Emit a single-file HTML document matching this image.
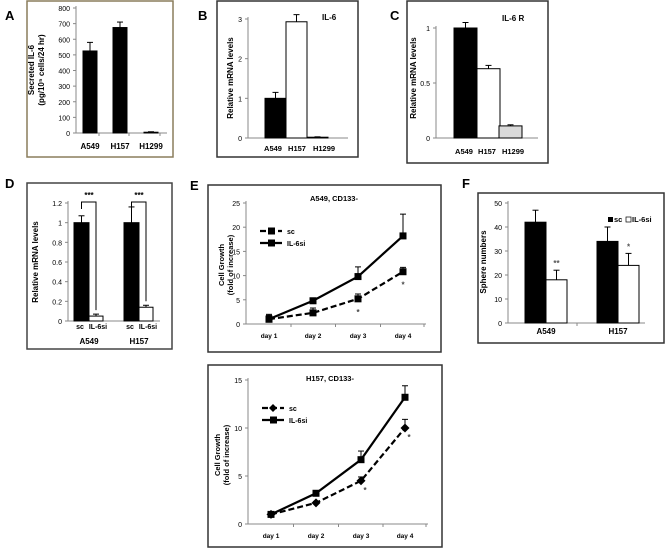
<!DOCTYPE html>
<html><head><meta charset="utf-8"><style>
body{margin:0;background:#fff;}
svg{display:block;font-family:"Liberation Sans",sans-serif;font-weight:bold;}
</style></head><body>
<svg id="fig" width="665" height="548" viewBox="0 0 665 548"></svg>
<script>
// Panel A
const aCats=["A549","H157","H1299"], aVals=[525,675,5], aErr=[55,35,3], aTicks=[0,100,200,300,400,500,600,700,800];
// Panel B
const bCats=["A549","H157","H1299"], bVals=[1.0,2.93,0.02], bErr=[0.15,0.18,0.01], bTicks=[0,1,2,3];
// Panel C
const cCats=["A549","H157","H1299"], cVals=[1.0,0.63,0.11], cErr=[0.05,0.03,0.01], cTicks=[0,0.5,1];
// Panel D
const dGroups=["A549","H157"], dSc=[1.0,1.0], dSi=[0.05,0.14], dScErr=[0.07,0.16], dSiErr=[0.02,0.02], dTicks=[0,0.2,0.4,0.6,0.8,1,1.2];
// Panel E
const days=["day 1","day 2","day 3","day 4"];
const eSc=[1,2.3,5.2,10.8], eScErr=[0.8,1,1,0.9], eSi=[1,4.8,9.8,18.2], eSiErr=[1,0.3,2,4.5], eTicks=[0,5,10,15,20,25];
// Panel F
const fGroups=["A549","H157"], fSc=[42,34], fSi=[18,24], fScErr=[5,6], fSiErr=[4,5], fTicks=[0,10,20,30,40,50];
// Bottom panel
const gSc=[1,2.2,4.5,10], gScErr=[0.1,0.15,0.4,0.9], gSi=[1,3.2,6.7,13.2], gSiErr=[0.1,0.1,0.9,1.2], gTicks=[0,5,10,15];

const svg=document.getElementById('fig');
const NS='http://www.w3.org/2000/svg';
function mk(tag,attrs,parent){const e=document.createElementNS(NS,tag);for(const k in attrs)e.setAttribute(k,attrs[k]);(parent||svg).appendChild(e);return e;}
function txt(x,y,s,size,anchor,parent,rot){const t=mk('text',{x:x,y:y,'font-size':size,'text-anchor':anchor||'middle',fill:'#000'},parent);if(rot)t.setAttribute('transform','rotate(-90 '+x+' '+y+')');t.textContent=s;return t;}
function scale(d0,d1,r0,r1){return v=>r0+(v-d0)/(d1-d0)*(r1-r0);}
function box(x,y,w,h,name,col){const r=mk('rect',{x:x,y:y,width:w,height:h,fill:'none',stroke:col||'#444','stroke-width':1.5});}
function yaxis(x,y,ticks,fmt,x1,g){mk('line',{x1:x,y1:y(ticks[ticks.length-1])-2,x2:x,y2:y(ticks[0]),stroke:'#888'},g);mk('line',{x1:x,y1:y(ticks[0]),x2:x1,y2:y(ticks[0]),stroke:'#888'},g);
 ticks.forEach(t=>{mk('line',{x1:x-3,y1:y(t),x2:x,y2:y(t),stroke:'#888'},g);txt(x-6,y(t)+3,fmt?fmt(t):String(t),7,'end',g).setAttribute('font-weight','normal');});}
function errbar(x,yv,ye,g,down){mk('line',{x1:x,y1:yv,x2:x,y2:ye,stroke:'#000'},g);mk('line',{x1:x-3,y1:ye,x2:x+3,y2:ye,stroke:'#000'},g);}
function grp(name){const g=mk('g',{});return g;}

// Panel labels
[["A",5,20],["B",198,20],["C",390,20],["D",5,188],["E",190,190],["F",462,188]].forEach(l=>{const t=txt(l[1],l[2],l[0],13,'start');});

// Simple 3-bar panels
function barPanel(name,cats,vals,errs,ticks,ax,y0,y1,xs,bw,fills,axEnd,labY,fmt,fs,labX){
 const g=grp(name);const y=scale(ticks[0],ticks[ticks.length-1],y0,y1);
 yaxis(ax,y,ticks,fmt,axEnd,g);
 cats.forEach((c,i)=>{const top=y(vals[i]);const r=mk('rect',{x:xs[i],y:top,width:bw,height:y(0)-top,fill:fills[i],stroke:'#000','stroke-width':1},g);
  
  errbar(xs[i]+bw/2,top,y(vals[i]+errs[i]),g);
  txt(labX?labX[i]:xs[i]+bw/2,labY,c,fs||8,'middle',g);});
 return g;}
box(27,1,146,156,'panel-a-frame','#8a7d5c');
barPanel('panel-a-chart',aCats,aVals,aErr,aTicks,76,133,8,[83,113,144],14,['#000','#000','#000'],167,149);
{const t=txt(34,70,'Secreted IL-6',8,'middle',null,true);
 const t2=txt(44,70,'(pg/10⁵ cells/24 hr)',8,'middle',null,true);}
[99,129,160].forEach(x=>mk('line',{x1:x,y1:133,x2:x,y2:136,stroke:'#888'}));

box(217,1,141,156,'panel-b-frame','#333');
barPanel('panel-b-chart',bCats,bVals,bErr,bTicks,248,138,19,[265,286,307],21,['#000','#fff','#fff'],348,151,null,7.5,[273,297,324]);
{const t=txt(233,78,'Relative mRNA levels',8,'middle',null,true);
 const t2=txt(322,20,'IL-6',8,'start');}

box(407,1,141,162,'panel-c-frame','#333');
barPanel('panel-c-chart',cCats,cCats.map((c,i)=>cVals[i]),cErr,cTicks,436,138,28,[454,477,499],23,['#000','#fff','#d9d9d9'],538,154,t=>t===0.5?'0.5':String(t),7.5,[464,487,513]);
{const t=txt(416,78,'Relative mRNA levels',8,'middle',null,true);
 const t2=txt(502,21,'IL-6 R',8,'start');}

// Panel D
box(27,183,145,166,'panel-d-frame','#444');
{const g=grp('panel-d-chart');const y=scale(0,1.2,321,203);
 yaxis(68,y,dTicks,t=>String(t),160,g);
 const gx=[74,124];
 dGroups.forEach((gn,i)=>{const x=gx[i];
  let r=mk('rect',{x:x,y:y(dSc[i]),width:15,height:y(0)-y(dSc[i]),fill:'#000',stroke:'#000'},g);
  errbar(x+7.5,y(dSc[i]),y(dSc[i]+dScErr[i]),g);
  r=mk('rect',{x:x+15,y:y(dSi[i]),width:14,height:y(0)-y(dSi[i]),fill:'#fff',stroke:'#000'},g);
  errbar(x+22,y(dSi[i]),y(dSi[i]+dSiErr[i]),g);
  mk('path',{d:'M'+(x+7.5)+' 209 V202 H'+(x+22)+' V'+(y(dSi[i])-6),fill:'none',stroke:'#000'},g);
  txt(x+15,198,'***',8,'middle',g);
  txt(x+6,329,'sc',7,'middle',g);txt(x+24,329,'IL-6si',7,'middle',g);
  txt(x+15,344,gn,8,'middle',g);});
 const t=txt(38,262,'Relative mRNA levels',8,'middle',null,true);}

// Line chart
function linePanel(name,sc,scE,si,siE,ticks,ax,y0,y1,xs,axEnd,labY,legY,diamond,stars){
 const g=grp(name);const y=scale(ticks[0],ticks[ticks.length-1],y0,y1);
 yaxis(ax,y,ticks,null,axEnd,g);
 xs.forEach((x,i)=>{txt(x,labY,days[i],6.5,'middle',g);if(i)mk('line',{x1:(x+xs[i-1])/2,y1:y0,x2:(x+xs[i-1])/2,y2:y0+3,stroke:'#888'},g);});
 mk('line',{x1:axEnd-2,y1:y0,x2:axEnd-2,y2:y0+3,stroke:'#888'},g);
 const ser=(vals,errs,dash,nm,dia)=>{
  errs.forEach((e,i)=>errbar(xs[i],y(vals[i]),y(vals[i]+e),g));
  const p=mk('polyline',{points:vals.map((v,i)=>xs[i]+','+y(v)).join(' '),fill:'none',stroke:'#000','stroke-width':2.2,'stroke-dasharray':dash?'6,3':'none'},g);
  
  vals.forEach((v,i)=>{if(dia)mk('path',{d:'M'+xs[i]+' '+(y(v)-4.5)+'l4.5 4.5l-4.5 4.5l-4.5 -4.5z',fill:'#000'},g);else mk('rect',{x:xs[i]-3.5,y:y(v)-3.5,width:7,height:7,fill:'#000'},g);});
 };
 ser(sc,scE,true,'sc',diamond);ser(si,siE,false,'il6si',false);
 stars.forEach(i=>txt(xs[i]+(diamond?4:0),y(sc[i])+(diamond?12:16),'*',8,'middle',g).setAttribute('fill','#444'));
 const lg=grp(name+'-legend');const lx=ax+14;
 mk('line',{x1:lx,y1:legY,x2:lx+22,y2:legY,stroke:'#000','stroke-width':2.2,'stroke-dasharray':'6,3'},lg);
 if(diamond)mk('path',{d:'M'+(lx+11)+' '+(legY-4)+'l4 4l-4 4l-4 -4z',fill:'#000'},lg);else mk('rect',{x:lx+8,y:legY-3.5,width:7,height:7,fill:'#000'},lg);
 txt(lx+27,legY+3,'sc',7,'start',lg);
 mk('line',{x1:lx,y1:legY+12,x2:lx+22,y2:legY+12,stroke:'#000','stroke-width':2.2},lg);
 mk('rect',{x:lx+8,y:legY+8.5,width:7,height:7,fill:'#000'},lg);
 txt(lx+27,legY+15,'IL-6si',7,'start',lg);
}
box(208,185,233,167,'panel-e-frame','#333');
linePanel('panel-e-chart',eSc,eScErr,eSi,eSiErr,eTicks,246,324,203,[269,313,358,403],426,338,231,false,[2,3]);
{let t=txt(334,201,'A549, CD133-',7.5,'middle');
 t=txt(224,265,'Cell Growth',7.5,'middle',null,true);
 t=txt(233,265,'(fold of increase)',7.5,'middle',null,true);}

box(208,365,234,182,'panel-g-frame','#333');
linePanel('panel-bottom-chart',gSc,gScErr,gSi,gSiErr,gTicks,248,524,380,[271,316,361,405],428,538,408,true,[2,3]);
{let t=txt(330,381,'H157, CD133-',7.5,'middle');
 t=txt(220,455,'Cell Growth',7.5,'middle',null,true);
 t=txt(229,455,'(fold of increase)',7.5,'middle',null,true);}

// Panel F
box(478,193,186,150,'panel-f-frame','#333');
{const g=grp('panel-f-chart');const y=scale(0,50,323,203);
 yaxis(508,y,fTicks,null,645,g);
 const gx=[525,597];
 fGroups.forEach((gn,i)=>{const x=gx[i];
  let r=mk('rect',{x:x,y:y(fSc[i]),width:21,height:y(0)-y(fSc[i]),fill:'#000',stroke:'#000'},g);
  errbar(x+10.5,y(fSc[i]),y(fSc[i]+fScErr[i]),g);
  r=mk('rect',{x:x+21,y:y(fSi[i]),width:21,height:y(0)-y(fSi[i]),fill:'#fff',stroke:'#000'},g);
  errbar(x+31.5,y(fSi[i]),y(fSi[i]+fSiErr[i]),g);
  txt(x+31.5,y(fSi[i]+fSiErr[i])-4,i===0?'**':'*',8,'middle',g).setAttribute('fill','#555');
  txt(x+21,334,gn,8,'middle',g);});
 mk('line',{x1:577,y1:323,x2:577,y2:326,stroke:'#888'},g);
 const lg=grp('panel-f-legend');
 mk('rect',{x:608,y:217,width:5,height:5,fill:'#000'},lg);txt(614,222,'sc',7.5,'start',lg);
 mk('rect',{x:626,y:217,width:5,height:5,fill:'#fff',stroke:'#000','stroke-width':0.7},lg);txt(632,222,'IL-6si',7.5,'start',lg);
 const t=txt(486,262,'Sphere numbers',8,'middle',null,true);}
</script>
</body></html>
